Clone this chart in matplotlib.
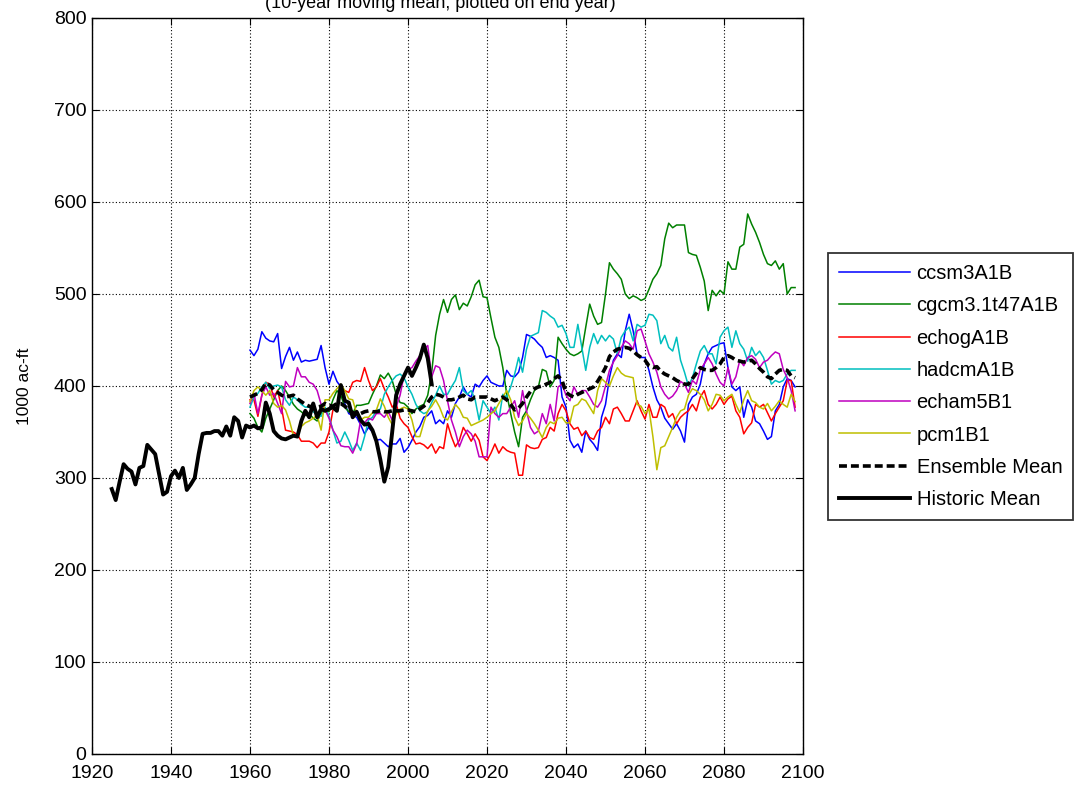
import matplotlib
matplotlib.use('Agg')
import matplotlib.pyplot as plt
import numpy as np

plt.rcParams['font.family'] = ['Liberation Sans', 'DejaVu Sans']

# Projected series, one value per year 1960..2098 (1000 ac-ft, 10-yr moving mean)
START_YEAR = 1960

CCSM3 = [439, 433, 440, 459, 452, 449, 448, 457, 419, 432, 442, 428, 437, 426, 428, 427, 428, 429, 444, 420,
         402, 416, 405, 399, 381, 370, 368, 366, 358, 348, 355, 350, 341, 342, 338, 334, 337, 337, 343, 328,
         333, 341, 350, 356, 366, 368, 373, 359, 363, 359, 373, 366, 381, 388, 399, 391, 388, 402, 399, 406,
         411, 404, 402, 400, 400, 417, 411, 410, 415, 431, 456, 454, 451, 446, 442, 431, 433, 431, 428, 388,
         377, 341, 333, 337, 328, 351, 342, 337, 330, 366, 380, 409, 428, 435, 431, 460, 478, 460, 435, 431,
         431, 417, 399, 385, 377, 365, 359, 353, 359, 351, 339, 380, 388, 391, 402, 424, 435, 442, 444, 446,
         447, 420, 399, 395, 399, 366, 385, 377, 362, 359, 351, 342, 345, 373, 380, 399, 408, 406, 399]

CGCM3 = [370, 365, 355, 350, 365, 375, 385, 395, 400, 395, 388, 380, 375, 372, 368, 370, 365, 362, 370, 375,
         372, 385, 395, 390, 377, 372, 370, 379, 379, 380, 381, 391, 400, 412, 408, 414, 406, 391, 382, 381,
         377, 370, 375, 378, 380, 390, 415, 455, 478, 494, 480, 494, 499, 483, 490, 487, 497, 510, 515, 497,
         496, 474, 453, 442, 420, 391, 370, 350, 334, 366, 373, 385, 395, 399, 418, 416, 399, 406, 453, 446,
         440, 435, 433, 435, 438, 464, 489, 476, 467, 469, 500, 534, 527, 522, 516, 500, 495, 498, 496, 493,
         495, 505, 516, 522, 531, 560, 577, 572, 575, 575, 575, 545, 543, 542, 529, 514, 482, 504, 498, 504,
         500, 535, 527, 527, 551, 554, 587, 576, 567, 556, 543, 533, 531, 536, 527, 533, 500, 507, 507]

ECHOG = [385, 385, 367, 390, 404, 402, 388, 395, 376, 352, 351, 350, 347, 340, 340, 340, 338, 333, 338, 338,
         350, 374, 377, 392, 395, 393, 404, 406, 405, 420, 406, 395, 399, 408, 397, 388, 377, 381, 365, 359,
         355, 345, 337, 338, 336, 332, 337, 327, 334, 332, 359, 345, 334, 341, 355, 348, 340, 348, 341, 323,
         319, 327, 337, 327, 334, 330, 328, 327, 303, 303, 336, 333, 332, 333, 342, 344, 355, 351, 370, 380,
         373, 359, 353, 355, 346, 351, 344, 342, 351, 355, 366, 359, 375, 377, 370, 362, 362, 373, 384, 373,
         364, 380, 366, 366, 380, 377, 366, 370, 359, 366, 370, 373, 380, 373, 388, 395, 380, 375, 380, 388,
         380, 386, 389, 373, 366, 348, 355, 360, 380, 377, 380, 371, 362, 370, 377, 384, 406, 406, 377]

HADCM = [377, 388, 392, 399, 404, 397, 400, 401, 399, 385, 379, 388, 385, 380, 377, 377, 372, 369, 367, 377,
         367, 352, 338, 340, 350, 341, 330, 338, 330, 345, 363, 366, 373, 375, 391, 399, 406, 411, 413, 409,
         399, 391, 380, 373, 370, 372, 382, 390, 400, 391, 391, 399, 406, 420, 395, 391, 395, 385, 363, 384,
         377, 370, 377, 363, 391, 388, 399, 413, 431, 415, 440, 454, 456, 458, 482, 480, 476, 473, 464, 466,
         457, 442, 442, 467, 442, 417, 442, 457, 446, 455, 449, 455, 451, 435, 453, 460, 464, 449, 467, 464,
         466, 478, 477, 471, 446, 455, 442, 438, 453, 428, 415, 400, 409, 424, 438, 444, 435, 435, 424, 453,
         460, 464, 442, 460, 446, 440, 427, 442, 433, 438, 431, 417, 402, 406, 404, 406, 413, 417, 417]

ECHAM5 = [381, 392, 370, 390, 399, 390, 392, 381, 370, 405, 399, 400, 420, 410, 410, 404, 402, 395, 380, 374,
          365, 352, 345, 335, 334, 334, 327, 337, 363, 360, 365, 363, 370, 370, 366, 372, 363, 377, 390, 412,
          418, 420, 427, 433, 440, 444, 410, 422, 420, 406, 384, 363, 350, 334, 345, 352, 348, 340, 323, 323,
          323, 377, 370, 366, 370, 370, 377, 384, 366, 395, 373, 355, 348, 351, 370, 359, 380, 362, 399, 402,
          390, 384, 399, 391, 395, 395, 388, 380, 377, 384, 400, 417, 426, 433, 442, 449, 446, 440, 460, 462,
          449, 435, 426, 415, 399, 391, 386, 389, 395, 405, 402, 393, 406, 402, 418, 424, 431, 424, 413, 404,
          400, 420, 402, 410, 428, 422, 431, 433, 429, 420, 426, 428, 433, 437, 435, 418, 409, 395, 373]

PCM1 = [383, 395, 399, 395, 390, 395, 381, 377, 379, 374, 362, 346, 345, 356, 360, 362, 365, 368, 352, 385,
        385, 392, 397, 402, 395, 386, 385, 370, 363, 366, 366, 371, 374, 386, 378, 366, 358, 370, 375, 377,
        375, 363, 345, 345, 360, 373, 378, 385, 377, 366, 363, 372, 380, 375, 366, 365, 357, 359, 361, 363,
        366, 370, 373, 381, 388, 395, 385, 366, 357, 362, 370, 365, 359, 352, 344, 355, 361, 359, 365, 366,
        360, 360, 378, 380, 386, 384, 377, 370, 395, 408, 404, 400, 411, 420, 414, 411, 410, 409, 380, 378,
        370, 375, 345, 309, 333, 335, 345, 355, 366, 373, 375, 390, 397, 395, 391, 385, 373, 380, 391, 390,
        384, 388, 391, 380, 371, 385, 395, 384, 382, 377, 375, 381, 373, 378, 384, 380, 377, 391, 383]

ENSEMBLE = [388, 390, 392, 396, 403, 401, 396, 393, 390, 388, 389, 390, 386, 383, 380, 378, 377, 377, 378, 381,
            379, 378, 381, 381, 378, 374, 371, 370, 370, 372, 373, 372, 372, 373, 372, 372, 373, 373, 373, 374,
            374, 373, 372, 375, 378, 382, 388, 391, 390, 388, 385, 385, 386, 388, 390, 386, 385, 388, 388, 388,
            388, 386, 384, 386, 388, 385, 380, 374, 376, 381, 388, 394, 397, 399, 400, 402, 404, 408, 411, 406,
            393, 390, 388, 391, 393, 395, 397, 399, 405, 412, 420, 432, 437, 440, 441, 442, 441, 438, 434, 431,
            428, 422, 420, 421, 416, 413, 411, 409, 406, 404, 402, 402, 408, 414, 420, 418, 417, 417, 420, 424,
            431, 433, 431, 428, 427, 426, 427, 428, 424, 419, 415, 410, 408, 413, 417, 418, 417, 411, 409]

# Historic record, one value per year 1925..2006
HIST_START = 1925
HISTORIC = [288, 276, 296, 315, 310, 307, 293, 311, 313, 336, 331, 326, 304, 282, 285, 302, 308, 300, 311, 287,
            293, 300, 326, 348, 349, 349, 351, 351, 346, 356, 346, 366, 362, 344, 357, 355, 357, 354, 355, 382,
            370, 351, 346, 343, 342, 344, 346, 345, 362, 373, 366, 381, 366, 375, 373, 375, 377, 373, 401, 384,
            382, 366, 372, 363, 358, 359, 352, 340, 320, 296, 312, 350, 390, 402, 411, 420, 411, 420, 430, 445,
            430, 402]

MODEL_NAMES = ['ccsm3A1B', 'cgcm3.1t47A1B', 'echogA1B', 'hadcmA1B', 'echam5B1', 'pcm1B1']
MODEL_DATA = [CCSM3, CGCM3, ECHOG, HADCM, ECHAM5, PCM1]
MODEL_COLORS = ['#0000FF', '#008000', '#FF0000', '#00BFBF', '#BF00BF', '#BFBF00']

fig = plt.figure(figsize=(10.82, 7.85), dpi=100)
ax = fig.add_axes([92 / 1082, 31 / 785, 711 / 1082, 736 / 785])

years = np.arange(START_YEAR, START_YEAR + len(CCSM3))
for name, vals, col in zip(MODEL_NAMES, MODEL_DATA, MODEL_COLORS):
    ax.plot(years, vals, color=col, lw=1.1, label=name)

ax.plot(np.arange(START_YEAR, START_YEAR + len(ENSEMBLE)), ENSEMBLE, color='black', lw=2.6,
        ls=(0, (2.2, 1.1)), label='Ensemble Mean')
ax.plot(np.arange(HIST_START, HIST_START + len(HISTORIC)), HISTORIC, color='black', lw=2.8,
        label='Historic Mean')

ax.set_xlim(1920, 2100)
ax.set_ylim(0, 800)
ax.set_xticks(np.arange(1920, 2101, 20))
ax.set_yticks(np.arange(0, 801, 100))
ax.tick_params(direction='in', length=5, width=0.8, top=True, right=True, labelsize=14)
ax.tick_params(axis='x', pad=8)
ax.tick_params(axis='y', pad=4)
ax.grid(True, color='black', ls=(0, (1, 2)), lw=0.8)
for s in ax.spines.values():
    s.set_linewidth(1.0)
ax.set_ylabel('1000 ac-ft', fontsize=12.5)
ax.yaxis.set_label_coords(-0.085, 0.5)

# title line sits partly above the top edge, as in the source image
fig.text(440 / 1082, 1 - 3 / 785, '(10-year moving mean, plotted on end year)', ha='center', va='center',
         fontsize=13)

leg = ax.legend(loc='upper left', bbox_to_anchor=(828 / 1082, 1 - 253 / 785),
                bbox_transform=fig.transFigure, fontsize=14.5, frameon=True, fancybox=False,
                handlelength=3.5, handletextpad=0.35, labelspacing=0.66, borderpad=0.55,
                borderaxespad=0)
leg.get_frame().set_edgecolor('black')
leg.get_frame().set_linewidth(1.3)

fig.savefig('out.png', dpi=100)
